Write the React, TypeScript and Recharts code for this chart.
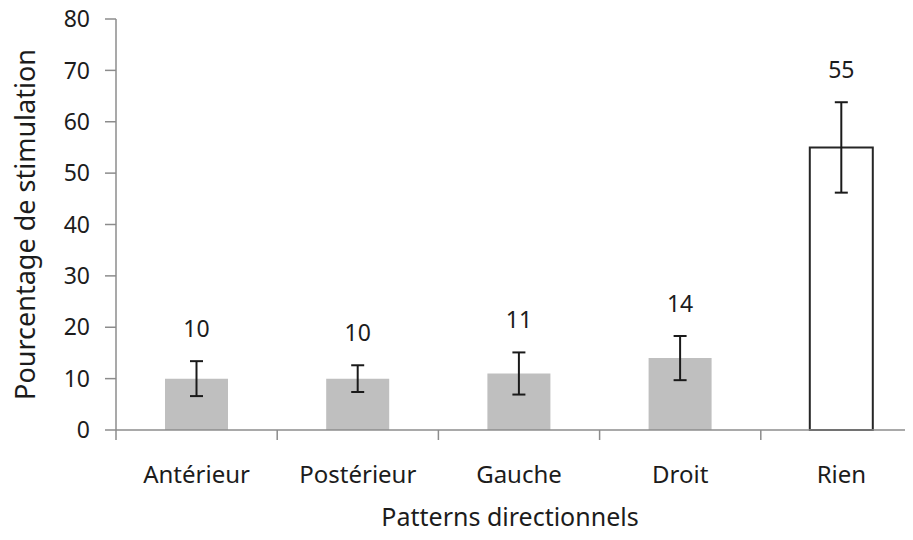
import { BarChart, Bar, XAxis, YAxis, ErrorBar, LabelList, Cell } from 'recharts';

// values
const CATEGORIES = ['Antérieur', 'Postérieur', 'Gauche', 'Droit', 'Rien'];
const VALUES = [10, 10, 11, 14, 55];
const ERRORS = [3.4, 2.6, 4.1, 4.3, 8.8];
const Y_TICKS = [0, 10, 20, 30, 40, 50, 60, 70, 80];

const X_TITLE = 'Patterns directionnels';
const Y_TITLE = 'Pourcentage de stimulation';

const data = CATEGORIES.map((name, i) => ({ name, value: VALUES[i], err: ERRORS[i] }));

const FONT = '"Noto Sans", "DejaVu Sans", sans-serif';
const TEXT = '#1c1c1c';
const AXIS = '#8c8c8c';
const BAR_STYLES = [
    { fill: '#bfbfbf', stroke: 'none' },
    { fill: '#bfbfbf', stroke: 'none' },
    { fill: '#bfbfbf', stroke: 'none' },
    { fill: '#bfbfbf', stroke: 'none' },
    { fill: '#ffffff', stroke: '#262626' },
];

const X_TICK_SIZE = 10;
const X_TICK_MARGIN = 33;

function CategoryTick(props: any) {
    const { x, y, payload } = props;
    const half = typeof payload.offset === 'number' ? payload.offset : 80.5;
    const axisY = y - X_TICK_SIZE - X_TICK_MARGIN;
    return (
        <g>
            <line x1={x - half} y1={axisY} x2={x - half} y2={axisY + 10} stroke={AXIS} strokeWidth={1.5} />
            <text x={x} y={y} textAnchor="middle" dominantBaseline="central" fill={TEXT} fontSize={24} fontFamily={FONT}>
                {payload.value}
            </text>
        </g>
    );
}

function XTitle(props: any) {
    const vb = props.viewBox;
    return (
        <text x={vb.x + vb.width / 2 - 9} y={vb.y + vb.height - 24} textAnchor="middle" dominantBaseline="central" fill={TEXT} fontSize={25} fontFamily={FONT}>
            {X_TITLE}
        </text>
    );
}

function ValueLabel(props: any) {
    const vb = props.viewBox || props;
    const { x, y, width } = vb;
    const height = Math.abs(vb.height);
    const { value, index } = props;
    const top = y - ERRORS[index] * (height / value);
    return (
        <text x={x + width / 2} y={top - 33} textAnchor="middle" dominantBaseline="central" fill={TEXT} fontSize={23} fontFamily={FONT}>
            {value}
        </text>
    );
}

export default function App() {
    return (
        <div style={{ margin: -8, width: 913, height: 540, overflow: 'hidden', background: '#fff', fontFamily: FONT }}>
            <BarChart
                width={930}
                height={540}
                data={data}
                margin={{ top: 19, right: 8, left: 0, bottom: 0 }}
            >
                <XAxis
                    dataKey="name"
                    height={110}
                    stroke={AXIS}
                    axisLine={{ stroke: AXIS, strokeWidth: 1.5 }}
                    tickLine={false}
                    tickSize={X_TICK_SIZE}
                    tickMargin={X_TICK_MARGIN}
                    tick={<CategoryTick />}
                    interval={0}
                    label={<XTitle />}
                />
                <YAxis
                    width={116}
                    domain={[0, 80]}
                    ticks={Y_TICKS}
                    interval={0}
                    axisLine={{ stroke: AXIS, strokeWidth: 1.5 }}
                    tickLine={{ stroke: AXIS, strokeWidth: 1.5 }}
                    tickSize={11}
                    tickMargin={15}
                    tick={{ fill: TEXT, fontSize: 23, fontFamily: FONT }}
                    label={{ value: Y_TITLE, angle: -90, position: 'center', dx: -33, fill: TEXT, fontSize: 27, fontFamily: FONT }}
                />
                <Bar dataKey="value" barSize={63} isAnimationActive={false}>
                    {data.map((entry, i) => (
                        <Cell key={entry.name} fill={BAR_STYLES[i].fill} stroke={BAR_STYLES[i].stroke} strokeWidth={2} />
                    ))}
                    <ErrorBar dataKey="err" direction="y" width={6.5} stroke="#1a1a1a" strokeWidth={2} isAnimationActive={false} />
                    <LabelList dataKey="value" content={<ValueLabel />} />
                </Bar>
            </BarChart>
        </div>
    );
}
